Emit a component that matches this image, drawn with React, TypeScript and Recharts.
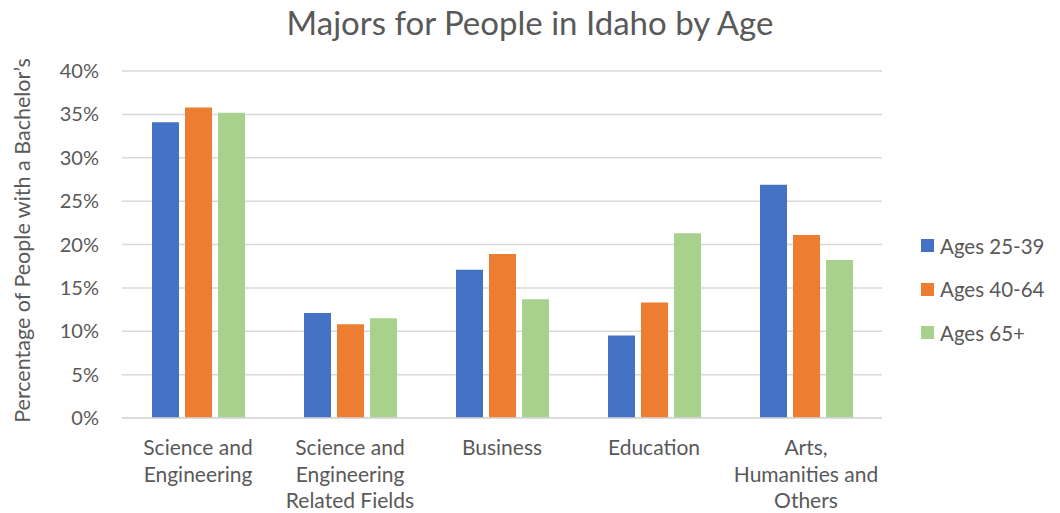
import { BarChart, Bar, XAxis, YAxis, CartesianGrid, Legend } from 'recharts'

const categories = [
  'Science and\nEngineering',
  'Science and\nEngineering\nRelated Fields',
  'Business',
  'Education',
  'Arts,\nHumanities and\nOthers',
]
const ages25to39 = [34.1, 12.1, 17.1, 9.5, 26.9]
const ages40to64 = [35.8, 10.8, 18.9, 13.3, 21.1]
const ages65plus = [35.2, 11.5, 13.7, 21.3, 18.2]
const yTicks = [0, 5, 10, 15, 20, 25, 30, 35, 40]

const series = [
  { key: 'a', name: 'Ages 25-39', color: '#4472C4', values: ages25to39 },
  { key: 'b', name: 'Ages 40-64', color: '#ED7D31', values: ages40to64 },
  { key: 'c', name: 'Ages 65+', color: '#A9D18E', values: ages65plus },
]

const data = categories.map((cat, i) => {
  const row: Record<string, string | number> = { cat }
  series.forEach((s) => {
    row[s.key] = s.values[i]
  })
  return row
})

const FONT = 'Lato, "Open Sans", sans-serif'
const TEXT = '#595959'

function CategoryTick({ x, y, payload }: any) {
  const lines = String(payload.value).split('\n')
  return (
    <text x={x} y={y + 29} textAnchor="middle" fill={TEXT} fontSize={21} fontFamily={FONT}>
      {lines.map((line, i) => (
        <tspan key={i} x={x} dy={i === 0 ? 0 : 26.5}>
          {line}
        </tspan>
      ))}
    </text>
  )
}

function LegendBox() {
  return (
    <div style={{ fontFamily: FONT, fontSize: 20.5, color: TEXT }}>
      {series.map((s) => (
        <div key={s.key} style={{ display: 'flex', alignItems: 'center', height: 43.5 }}>
          <span style={{ width: 13, height: 13, background: s.color, display: 'inline-block', marginRight: 6 }} />
          <span>{s.name}</span>
        </div>
      ))}
    </div>
  )
}

export default function App() {
  return (
    <div style={{ position: 'absolute', left: 0, top: 0, width: 1060, height: 513, background: '#fff' }}>
      <div
        style={{
          position: 'absolute',
          top: 0,
          left: 0,
          width: 1060,
          textAlign: 'center',
          lineHeight: '44px',
          fontSize: 33,
          fontFamily: FONT,
          color: TEXT,
        }}
      >
        Majors for People in Idaho by Age
      </div>
      <BarChart
        width={1060}
        height={513}
        data={data}
        margin={{ top: 71, right: 178, bottom: 65, left: 0 }}
        barSize={27}
        barGap={6}
      >
        <CartesianGrid vertical={false} stroke="#D9D9D9" strokeWidth={1.5} />
        <XAxis
          dataKey="cat"
          height={30}
          axisLine={{ stroke: '#D9D9D9', strokeWidth: 1.5 }}
          tickLine={false}
          interval={0}
          tick={<CategoryTick />}
        />
        <YAxis
          width={122}
          domain={[0, 40]}
          ticks={yTicks}
          tickFormatter={(v) => `${v}%`}
          axisLine={false}
          tickLine={false}
          tickMargin={17}
          tick={{ fill: TEXT, fontSize: 20, fontFamily: FONT }}
          label={{
            value: 'Percentage of People with a Bachelor\u2019s',
            angle: -90,
            position: 'insideLeft',
            offset: 22,
            dy: -4,
            fill: TEXT,
            fontSize: 21.5,
            fontFamily: FONT,
            style: { textAnchor: 'middle' },
          }}
        />
        <Legend
          layout="vertical"
          align="center"
          verticalAlign="middle"
          content={<LegendBox />}
          wrapperStyle={{ left: 921, top: 224, width: 139, height: 131 }}
        />
        {series.map((s) => (
          <Bar key={s.key} dataKey={s.key} name={s.name} fill={s.color} isAnimationActive={false} />
        ))}
      </BarChart>
    </div>
  )
}
